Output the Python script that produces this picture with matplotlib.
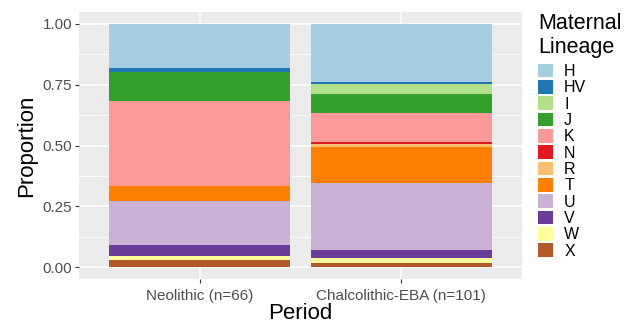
import numpy as np
import matplotlib.pyplot as plt
from matplotlib.patches import Patch

plt.rcParams['font.family'] = ['Liberation Sans', 'DejaVu Sans']

# haplogroup counts per period
lineages = ['H', 'HV', 'I', 'J', 'K', 'N', 'R', 'T', 'U', 'V', 'W', 'X']
periods = ['Neolithic (n=66)', 'Chalcolithic-EBA (n=101)']
neolithic = [12, 1, 0, 8, 23, 0, 0, 4, 12, 3, 1, 2]
chalcolithic = [24, 1, 4, 8, 12, 1, 1, 15, 28, 3, 2, 2]
colors = ['#A6CEE3', '#1F78B4', '#B2DF8A', '#33A02C', '#FB9A99', '#E31A1C',
          '#FDBF6F', '#FF7F00', '#CAB2D6', '#6A3D9A', '#FFFF99', '#B15928']

counts = np.array([neolithic, chalcolithic], dtype=float)
props = counts / counts.sum(axis=1, keepdims=True)

fig = plt.figure(figsize=(6.33, 3.23), dpi=100)
ax = fig.add_axes([0.1248, 0.1347, 0.70, 0.8288])
ax.set_facecolor('#EBEBEB')

x = np.arange(1, len(periods) + 1)
# ggplot stacks the first level on top, so go from the last level upwards
bottom = np.zeros(len(periods))
for i in range(len(lineages) - 1, -1, -1):
    ax.bar(x, props[:, i], bottom=bottom, width=0.9, color=colors[i],
           linewidth=0, zorder=3)
    bottom += props[:, i]

ax.set_xlim(0.4, 2.6)
ax.set_ylim(-0.05, 1.05)
ax.set_yticks([0, 0.25, 0.5, 0.75, 1.0])
ax.set_yticklabels(['0.00', '0.25', '0.50', '0.75', '1.00'])
ax.set_yticks([0.125, 0.375, 0.625, 0.875], minor=True)
ax.set_xticks(x)
ax.set_xticklabels(periods)
ax.grid(True, which='major', color='white', linewidth=1.1, zorder=0)
ax.grid(True, which='minor', axis='y', color='white', linewidth=0.55, zorder=0)
ax.set_axisbelow(True)
for s in ax.spines.values():
    s.set_visible(False)
ax.tick_params(which='major', length=3, width=0.8, color='#333333',
               labelcolor='#4D4D4D', labelsize=11, pad=2)
ax.tick_params(axis='x', pad=3.5)
ax.tick_params(which='minor', length=0)
ax.set_xlabel('Period', fontsize=16, labelpad=0)
ax.set_ylabel('Proportion', fontsize=16, labelpad=4)

handles = [Patch(facecolor=c, edgecolor='none') for c in colors]
leg = fig.legend(handles, lineages, loc='upper left',
                 bbox_to_anchor=(0.832, 0.995), frameon=False,
                 title='Maternal\nLineage', title_fontsize=15.5, fontsize=11.5,
                 handlelength=0.95, handleheight=0.95, labelspacing=0.06,
                 handletextpad=0.7, borderpad=0.2)
leg._legend_box.align = 'left'
leg._legend_box.sep = 4

fig.savefig('out.png', dpi=100)
